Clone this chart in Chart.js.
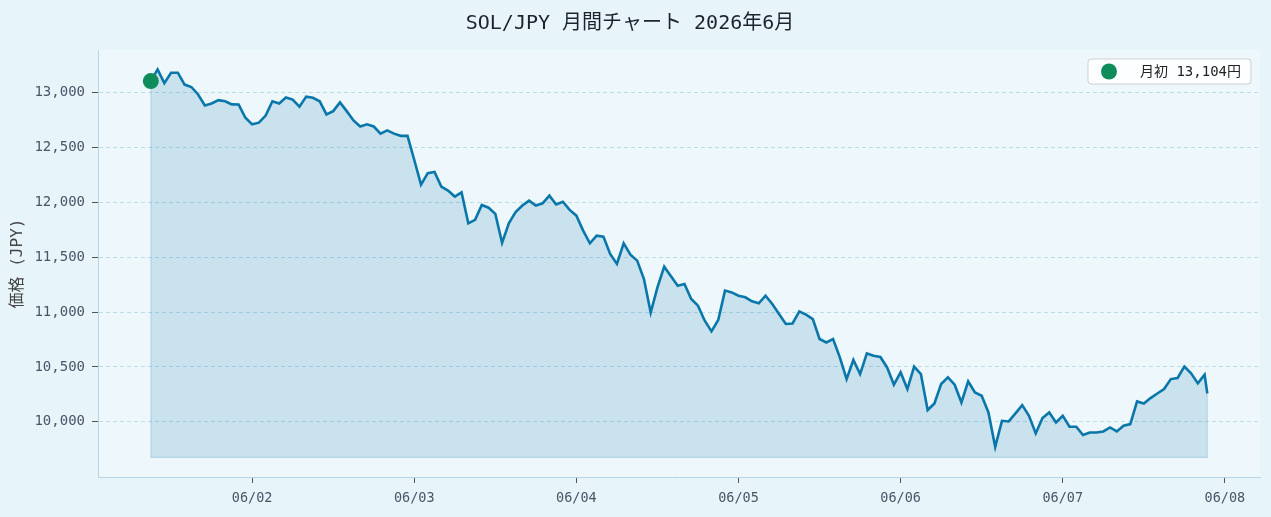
<!DOCTYPE html>
<html lang="ja">
<head>
    <meta charset="UTF-8">
    <title>SOL/JPY 月間チャート 2026年6月</title>
    <script src="https://cdn.jsdelivr.net/npm/chart.js"></script>
    <style>
        body {
            margin: 0;
            background-color: #e7f4fa;
        }
        #chartContainer {
            width: 1271px;
            height: 517px;
        }
    </style>
</head>
<body>
    <div id="chartContainer">
        <canvas id="solChart" width="1271" height="517"></canvas>
    </div>

    <script>
        // 価格データ (1時間ごと, 06/01 09:00 から)
        const prices = [
            13104, 13210, 13085, 13180, 13180, 13072, 13050, 12982, 12882, 12900,
            12930, 12920, 12892, 12890, 12770, 12710, 12725, 12790, 12920, 12900,
            12955, 12935, 12870, 12962, 12952, 12920, 12800, 12830, 12910, 12830,
            12745, 12690, 12710, 12690, 12625, 12655, 12625, 12605, 12605, 12385,
            12160, 12265, 12275, 12143, 12106, 12052, 12090, 11808, 11840, 11975,
            11950, 11894, 11630, 11808, 11910, 11970, 12015, 11970, 11990, 12060,
            11980, 12005, 11930, 11878, 11742, 11626, 11696, 11687, 11529, 11438,
            11626, 11523, 11468, 11300, 10995, 11225, 11413, 11325, 11240, 11256,
            11119, 11058, 10921, 10824, 10927, 11195, 11179, 11149, 11134, 11097,
            11079, 11149, 11073, 10982, 10891, 10896, 11006, 10976, 10936, 10754,
            10723, 10754, 10587, 10389, 10563, 10435, 10623, 10602, 10590, 10495,
            10338, 10450, 10298, 10502, 10435, 10107, 10167, 10344, 10404, 10338,
            10176, 10368, 10267, 10237, 10085, 9772, 10009, 10003, 10076, 10152,
            10055, 9894, 10034, 10085, 9994, 10055, 9955, 9955, 9879, 9903,
            9903, 9912, 9948, 9912, 9964, 9979, 10185, 10167, 10216, 10258,
            10298, 10389, 10399, 10502, 10441, 10350, 10429, 10258
        ];
        const START_HOUR = 9;       // 06/01 09:00
        const LAST_HOUR = 165.4;    // 最後の点 (06/07 21:24頃)
        const dayLabels = ['06/02', '06/03', '06/04', '06/05', '06/06', '06/07', '06/08'];
        const dayTicks = [24, 48, 72, 96, 120, 144, 168];
        const priceTicks = [10000, 10500, 11000, 11500, 12000, 12500, 13000];
        const FILL_BASE = 9675;
        const X_MIN = 1.18, X_MAX = 173.2;
        const Y_MIN = 9497, Y_MAX = 13387;
        const firstPrice = prices[0];

        const points = prices.map((p, i) => ({
            x: i < prices.length - 1 ? START_HOUR + i : LAST_HOUR,
            y: p
        }));

        const FONT = "'DejaVu Sans Mono', 'Noto Sans CJK JP', monospace";

        // プロット領域の背景
        const plotBg = {
            id: 'plotBg',
            beforeDraw(chart) {
                const { ctx, chartArea: a } = chart;
                ctx.save();
                ctx.fillStyle = '#eef7fb';
                ctx.fillRect(a.left, a.top, a.right - a.left, a.bottom - a.top);
                ctx.restore();
            }
        };

        // 塗りつぶし領域の縁
        const fillEdge = {
            id: 'fillEdge',
            afterDatasetsDraw(chart) {
                const { ctx, scales: { x, y } } = chart;
                const first = points[0], last = points[points.length - 1];
                const yb = y.getPixelForValue(FILL_BASE);
                ctx.save();
                ctx.strokeStyle = 'rgba(11,118,168,0.18)';
                ctx.lineWidth = 1.2;
                ctx.beginPath();
                ctx.moveTo(x.getPixelForValue(first.x), y.getPixelForValue(first.y));
                ctx.lineTo(x.getPixelForValue(first.x), yb);
                ctx.lineTo(x.getPixelForValue(last.x), yb);
                ctx.lineTo(x.getPixelForValue(last.x), y.getPixelForValue(last.y));
                ctx.stroke();
                ctx.restore();
            }
        };

        // 右上の凡例ボックス
        const legendBox = {
            id: 'legendBox',
            afterDraw(chart) {
                const ctx = chart.ctx;
                const x = 1088, y = 59, w = 163, h = 25;
                ctx.save();
                ctx.beginPath();
                ctx.roundRect(x, y, w, h, 3);
                ctx.fillStyle = 'rgba(255,255,255,0.85)';
                ctx.fill();
                ctx.strokeStyle = '#cfcfcf';
                ctx.lineWidth = 1;
                ctx.stroke();
                ctx.beginPath();
                ctx.arc(x + 21, y + h / 2, 8, 0, Math.PI * 2);
                ctx.fillStyle = '#0e8c5a';
                ctx.fill();
                ctx.fillStyle = '#222';
                ctx.font = '14px ' + FONT;
                ctx.textBaseline = 'middle';
                ctx.fillText('月初 ' + firstPrice.toLocaleString('en-US') + '円', x + 52, y + h / 2 + 1);
                ctx.restore();
            }
        };

        const ctx = document.getElementById('solChart').getContext('2d');
        new Chart(ctx, {
            type: 'line',
            data: {
                datasets: [{
                    label: '月初',
                    data: [{ x: START_HOUR, y: firstPrice }],
                    showLine: false,
                    pointRadius: 8,
                    pointBackgroundColor: '#0e8c5a',
                    pointBorderWidth: 0,
                    order: 0
                }, {
                    label: 'SOL/JPY',
                    data: points,
                    borderColor: '#0a77aa',
                    borderWidth: 2.6,
                    pointRadius: 0,
                    tension: 0,
                    fill: { value: FILL_BASE },
                    backgroundColor: 'rgba(11,118,168,0.16)',
                    order: 1
                }]
            },
            options: {
                responsive: false,
                animation: false,
                layout: { padding: { top: 0, right: 11, bottom: 0, left: 0 } },
                plugins: {
                    legend: { display: false },
                    tooltip: { enabled: false },
                    title: {
                        display: true,
                        text: 'SOL/JPY 月間チャート 2026年6月',
                        color: '#1e2230',
                        font: { family: FONT, size: 20, weight: 'normal' },
                        padding: { top: 12, bottom: 14 }
                    }
                },
                scales: {
                    x: {
                        type: 'linear',
                        min: X_MIN,
                        max: X_MAX,
                        afterFit(scale) { scale.height = 40; },
                        afterBuildTicks(scale) { scale.ticks = dayTicks.map(v => ({ value: v })); },
                        grid: { drawOnChartArea: false, tickLength: 6, tickColor: '#555' },
                        border: { color: '#b6d6e6' },
                        ticks: {
                            padding: 7,
                            color: '#4a5566',
                            font: { family: FONT, size: 13.5 },
                            callback: (v) => dayLabels[dayTicks.indexOf(v)]
                        }
                    },
                    y: {
                        min: Y_MIN,
                        max: Y_MAX,
                        afterFit(scale) { scale.width = 98; },
                        afterBuildTicks(scale) { scale.ticks = priceTicks.map(v => ({ value: v })); },
                        grid: {
                            color: '#bcdceb',
                            tickLength: 6,
                            tickColor: '#555',
                            tickBorderDash: []
                        },
                        border: { color: '#b6d6e6', dash: [4, 3] },
                        ticks: {
                            padding: 7,
                            color: '#4a5566',
                            font: { family: FONT, size: 14 },
                            callback: (v) => v.toLocaleString('en-US')
                        },
                        title: {
                            display: true,
                            text: '価格 (JPY)',
                            color: '#444',
                            font: { family: FONT, size: 16 },
                            padding: { top: 8, bottom: 0 }
                        }
                    }
                }
            },
            plugins: [plotBg, fillEdge, legendBox]
        });
    </script>
</body>
</html>
